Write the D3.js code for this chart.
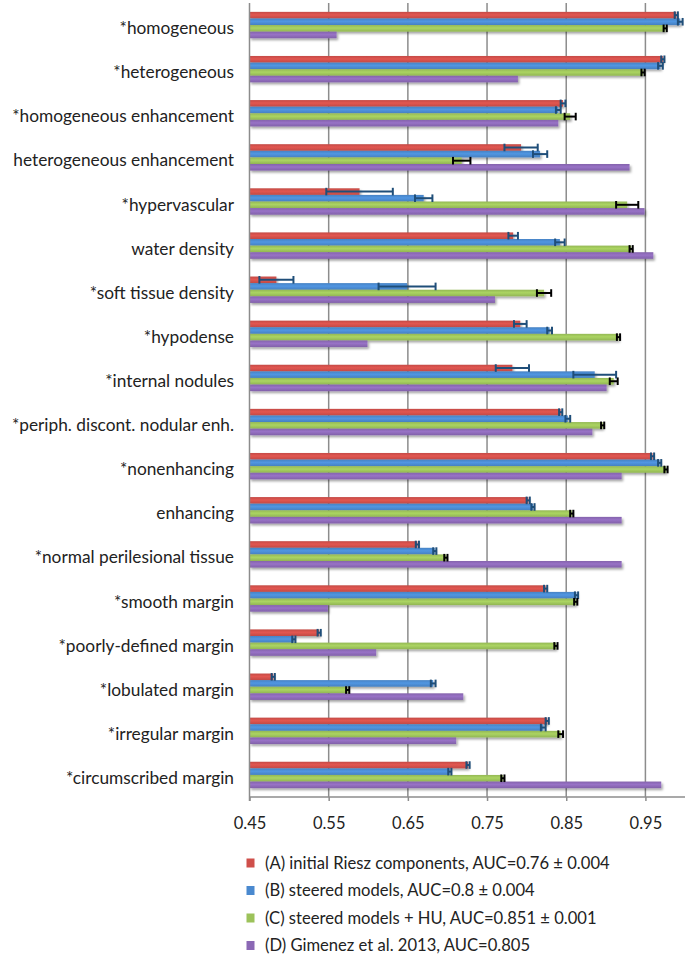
<!DOCTYPE html>
<html>
<head>
<meta charset="utf-8">
<script src="https://cdn.jsdelivr.net/npm/d3@7/dist/d3.min.js"></script>
<style>
  html, body { margin: 0; padding: 0; background: #fff; }
  svg { display: block; font-family: Lato, "Open Sans", sans-serif; }
</style>
</head>
<body>
<svg id="chart" width="700" height="958"></svg>
<script>
// Semantic features (top to bottom)
const categories = [
  "*homogeneous", "*heterogeneous", "*homogeneous enhancement",
  "heterogeneous enhancement", "*hypervascular", "water density",
  "*soft tissue density", "*hypodense", "*internal nodules",
  "*periph. discont. nodular enh.", "*nonenhancing", "enhancing",
  "*normal perilesional tissue", "*smooth margin", "*poorly-defined margin",
  "*lobulated margin", "*irregular margin", "*circumscribed margin"
];

// AUC per feature for each model
const aucA = [0.989, 0.972, 0.846, 0.793, 0.589, 0.783, 0.484, 0.792, 0.782, 0.843, 0.959, 0.802, 0.662, 0.824, 0.538, 0.480, 0.826, 0.726];
const aucB = [0.994, 0.969, 0.840, 0.817, 0.670, 0.842, 0.649, 0.829, 0.886, 0.852, 0.968, 0.808, 0.684, 0.863, 0.506, 0.682, 0.821, 0.703];
const aucC = [0.975, 0.947, 0.855, 0.718, 0.927, 0.932, 0.822, 0.916, 0.910, 0.896, 0.976, 0.857, 0.698, 0.862, 0.837, 0.574, 0.843, 0.770];
const aucD = [0.560, 0.789, 0.840, 0.930, 0.949, 0.960, 0.760, 0.599, 0.901, 0.883, 0.920, 0.920, 0.920, 0.549, 0.610, 0.720, 0.711, 0.970];

// Standard deviations (error bars) for A, B, C
const errA = [0.002, 0.002, 0.003, 0.021, 0.042, 0.006, 0.0215, 0.008, 0.021, 0.002, 0.002, 0.002, 0.002, 0.002, 0.002, 0.002, 0.002, 0.002];
const errB = [0.003, 0.003, 0.003, 0.009, 0.011, 0.006, 0.036, 0.003, 0.027, 0.003, 0.002, 0.002, 0.002, 0.002, 0.002, 0.003, 0.003, 0.002];
const errC = [0.002, 0.002, 0.007, 0.011, 0.014, 0.002, 0.009, 0.002, 0.005, 0.002, 0.002, 0.002, 0.002, 0.002, 0.002, 0.002, 0.003, 0.002];

const seriesNames = [
  "(A) initial Riesz components, AUC=0.76 \u00b1 0.004",
  "(B) steered models, AUC=0.8 \u00b1 0.004",
  "(C) steered models + HU, AUC=0.851 \u00b1 0.001",
  "(D) Gimenez et al. 2013, AUC=0.805"
];
const tickValues = [0.45, 0.55, 0.65, 0.75, 0.85, 0.95];

const colors = ["#cf4f4a", "#4a89cf", "#9cc25a", "#8b68b5"];
const errColors = ["#1f4e79", "#1f4e79", "#000000", null];

const series = [
  { vals: aucA, errs: errA },
  { vals: aucB, errs: errB },
  { vals: aucC, errs: errC },
  { vals: aucD, errs: null }
];

const svg = d3.select("#chart");

const x = d3.scaleLinear().domain([0.45, 1.0]).range([249.5, 685]);
const y = d3.scaleBand().domain(categories).range([3, 797]);
const barH = 6.6;
const groupH = barH * 4;

// Drop shadow and bevel gradients
const defs = svg.append("defs");
const shadow = defs.append("filter").attr("id", "shadow")
  .attr("x", "-5%").attr("y", "-50%").attr("width", "110%").attr("height", "220%");
shadow.append("feDropShadow").attr("dx", 1.5).attr("dy", 2).attr("stdDeviation", 1.1)
  .attr("flood-color", "#000").attr("flood-opacity", 0.35);

colors.forEach((c, i) => {
  const g = defs.append("linearGradient").attr("id", "grad" + i)
    .attr("x1", 0).attr("y1", 0).attr("x2", 0).attr("y2", 1);
  const base = d3.color(c);
  g.append("stop").attr("offset", "0%").attr("stop-color", base.darker(0.15));
  g.append("stop").attr("offset", "45%").attr("stop-color", base.brighter(0.25));
  g.append("stop").attr("offset", "100%").attr("stop-color", base.darker(0.2));
});

// Vertical gridlines
svg.append("g").selectAll("line")
  .data(tickValues.slice(1))
  .join("line")
  .attr("x1", d => x(d)).attr("x2", d => x(d))
  .attr("y1", 3).attr("y2", 797)
  .attr("stroke", "#8c8c8c").attr("stroke-width", 1.5);

// Bars
series.forEach((s, si) => {
  svg.append("g").attr("filter", "url(#shadow)").selectAll("rect")
    .data(categories)
    .join("rect")
    .attr("x", x(0.45))
    .attr("y", d => y(d) + y.bandwidth() / 2 - groupH / 2 + si * barH)
    .attr("width", (d, i) => x(s.vals[i]) - x(0.45))
    .attr("height", barH)
    .attr("fill", `url(#grad${si})`);
});

// Error bars
series.forEach((s, si) => {
  if (!s.errs) return;
  const g = svg.append("g").attr("stroke", errColors[si]).attr("stroke-width", 2).attr("fill", "none");
  categories.forEach((c, i) => {
    const cy = y(c) + y.bandwidth() / 2 - groupH / 2 + si * barH + barH / 2;
    const x0 = x(s.vals[i] - s.errs[i]);
    const x1 = x(s.vals[i] + s.errs[i]);
    g.append("line").attr("x1", x0).attr("x2", x1).attr("y1", cy).attr("y2", cy);
    g.append("line").attr("x1", x0).attr("x2", x0).attr("y1", cy - 3.8).attr("y2", cy + 3.8);
    g.append("line").attr("x1", x1).attr("x2", x1).attr("y1", cy - 3.8).attr("y2", cy + 3.8);
  });
});

// Axis ticks and labels
const xAxis = d3.axisBottom(x).tickValues(tickValues).tickSize(4).tickFormat(d3.format(".2f"));
const axisG = svg.append("g").attr("transform", "translate(0,797)").call(xAxis);
axisG.select(".domain").remove();
axisG.selectAll(".tick line").attr("stroke", "#8c8c8c").attr("stroke-width", 1.5);
axisG.selectAll(".tick text")
  .attr("y", 0).attr("dy", null)
  .attr("transform", "translate(0,32)")
  .attr("fill", "#222").attr("font-size", 16.5).attr("font-family", "Lato, sans-serif");

svg.append("line")
  .attr("x1", x(0.45)).attr("x2", x(0.45)).attr("y1", 3).attr("y2", 801)
  .attr("stroke", "#8c8c8c").attr("stroke-width", 1.5);
svg.append("line")
  .attr("x1", x(0.45)).attr("x2", x(1.0)).attr("y1", 797).attr("y2", 797)
  .attr("stroke", "#8c8c8c").attr("stroke-width", 1.5);

// Category labels
svg.append("g").selectAll("text")
  .data(categories)
  .join("text")
  .attr("x", 234)
  .attr("y", d => y(d) + y.bandwidth() / 2 + 3)
  .attr("dy", "0.35em")
  .attr("text-anchor", "end")
  .attr("font-size", 17.3)
  .attr("fill", "#222")
  .text(d => d);

// Legend
const legendY = [863, 890.5, 918, 945.5];
const legend = svg.append("g");
seriesNames.forEach((name, i) => {
  legend.append("rect")
    .attr("x", 246.5).attr("y", legendY[i] - 4.5)
    .attr("width", 8).attr("height", 9)
    .attr("fill", colors[i]);
  legend.append("text")
    .attr("x", 265).attr("y", legendY[i])
    .attr("dy", "0.35em")
    .attr("font-size", 16.6)
    .attr("fill", "#222")
    .text(name);
});
</script>
</body>
</html>
